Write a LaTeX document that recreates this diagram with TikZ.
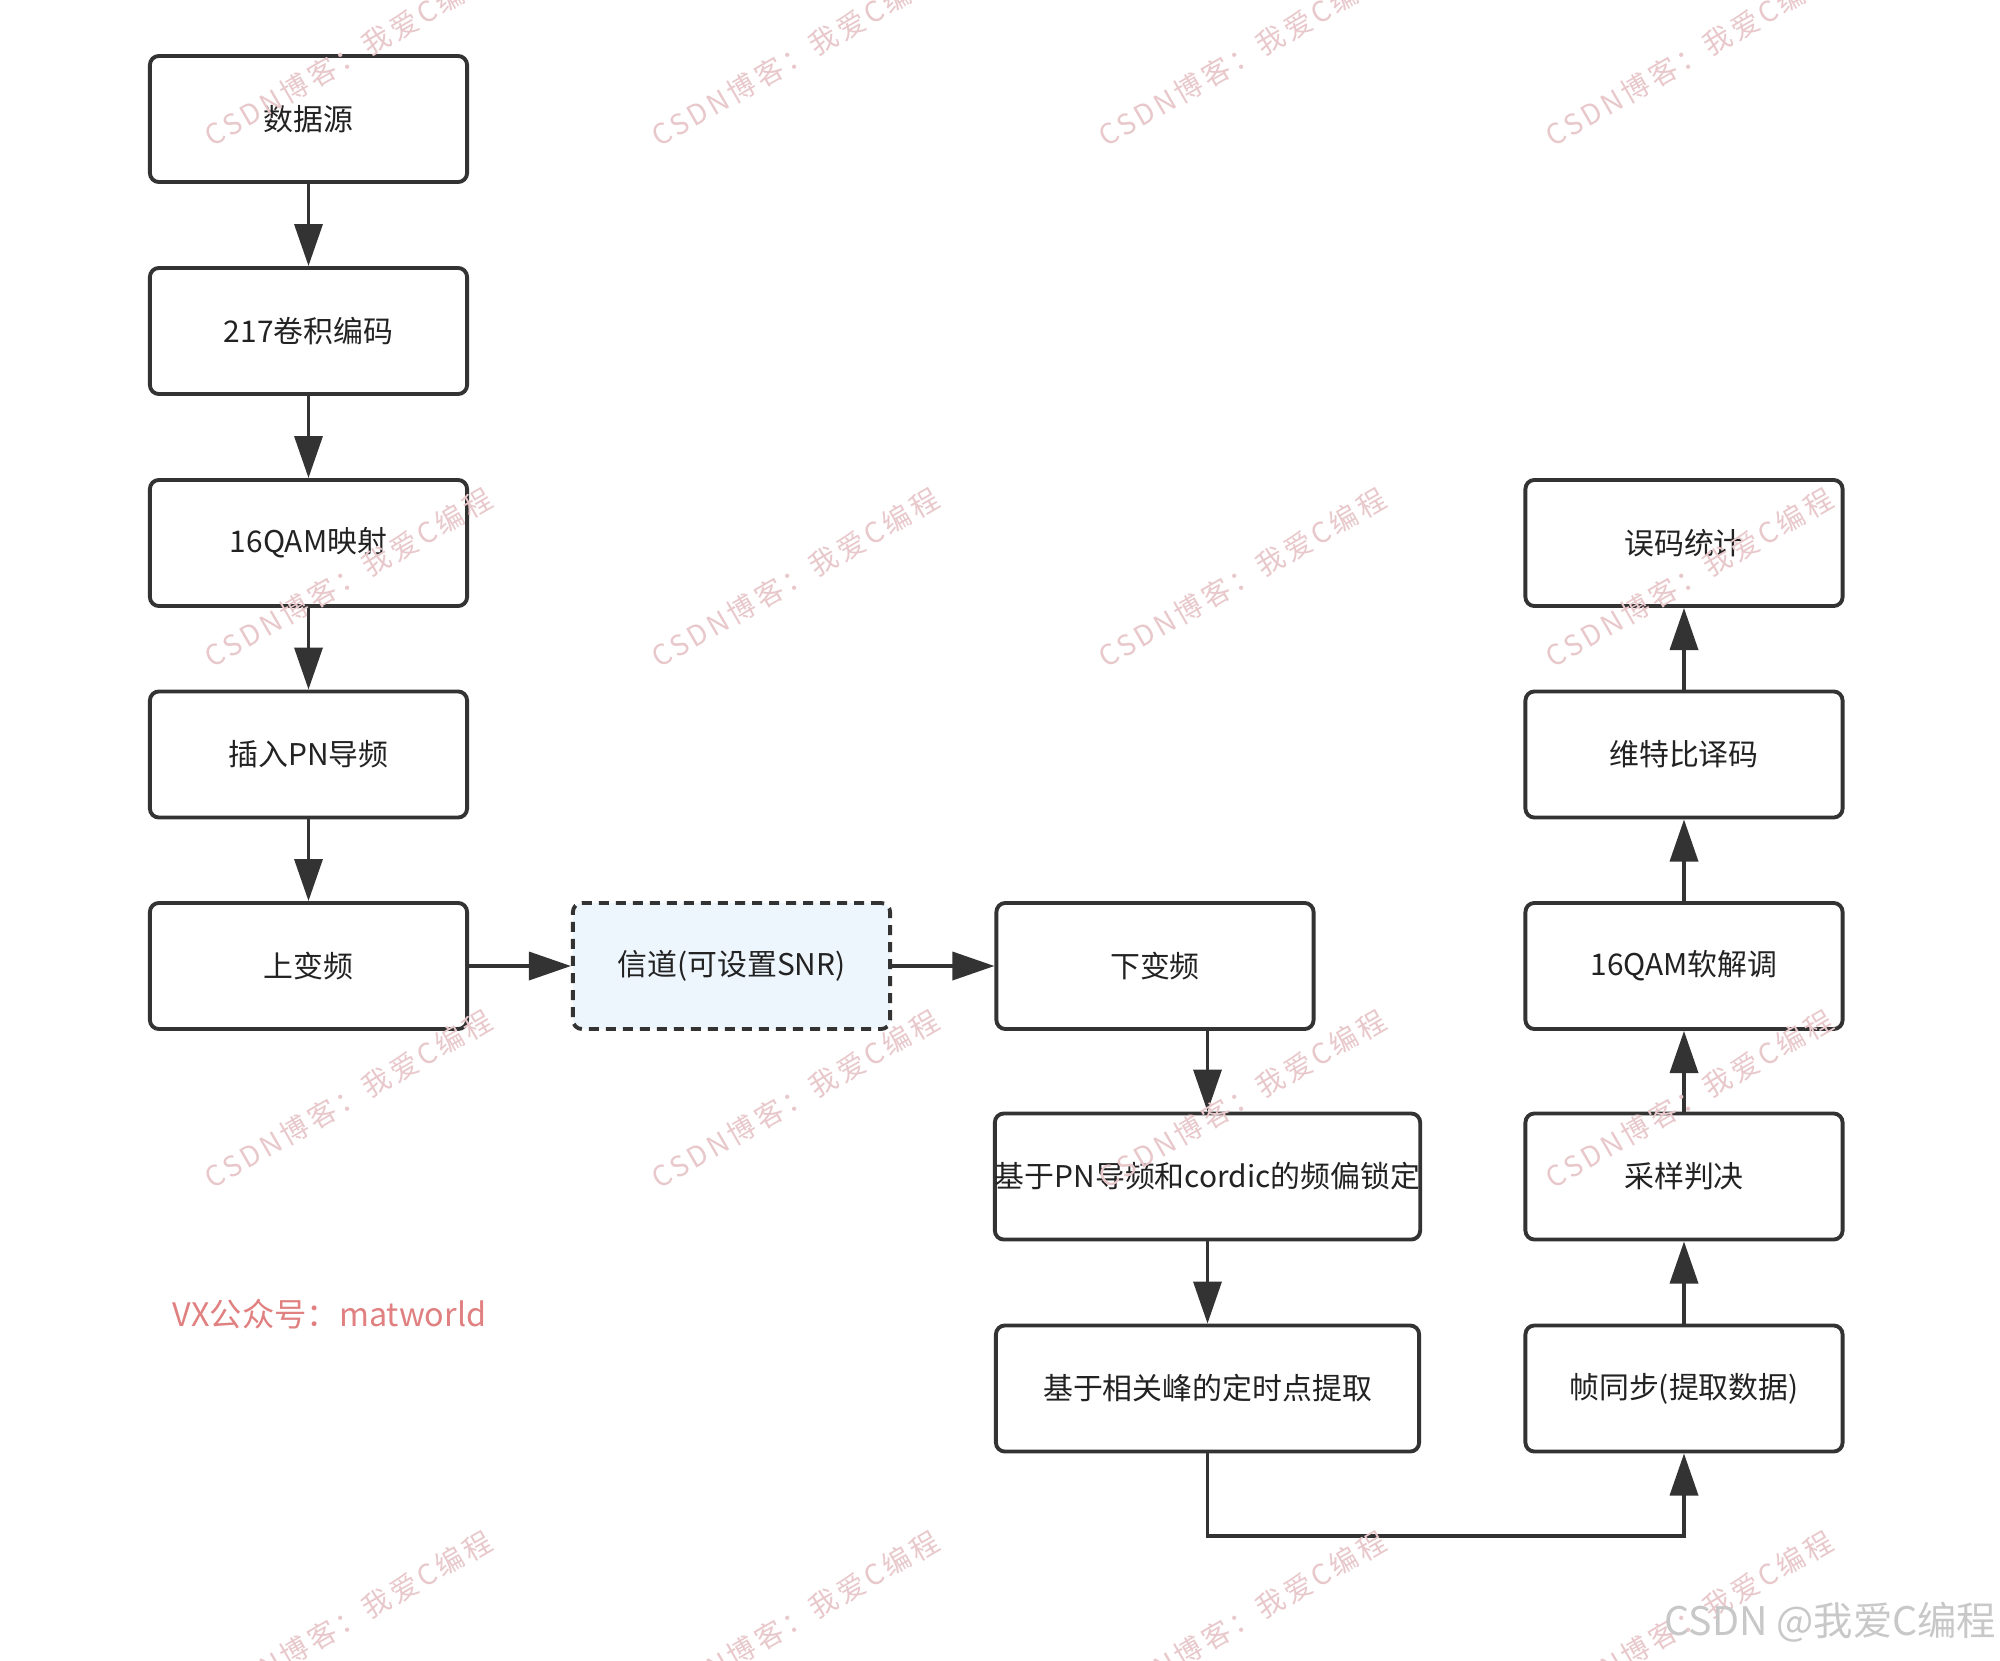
\documentclass[tikz,border=0pt]{standalone}
\usepackage{fontspec}
\setmainfont{Noto Sans CJK SC}
\newfontfamily\wmfont[LetterSpace=12]{Noto Sans CJK SC}
\usetikzlibrary{arrows.meta}
\definecolor{linec}{HTML}{333333}
\definecolor{txtc}{HTML}{222222}
\definecolor{chfill}{HTML}{EEF6FD}
\definecolor{wmc}{RGB}{232,200,203}
\definecolor{vxc}{RGB}{224,128,128}
\definecolor{csdnc}{RGB}{200,200,200}
\begin{document}
\begin{tikzpicture}[x=0.01cm,y=-0.01cm,
  blk/.style={draw=linec, line width=1.1pt, rounded corners=0.09cm, fill=white,
    minimum width=3.17cm, minimum height=1.26cm, inner sep=0pt,
    font=\fontsize{8.5}{10}\selectfont, text=txtc},
  widebox/.style={blk, minimum width=4.23cm},
  chan/.style={blk, dash pattern=on 0.1cm off 0.07cm, fill=chfill},
  arr/.style={draw=linec, line width=1pt, -{Triangle[length=0.42cm,width=0.28cm]}},
  ln/.style={draw=linec, line width=1pt},
  wm/.style={text=wmc, rotate=30, inner sep=0pt, font=\wmfont\fontsize{8}{10}\selectfont}
]
\useasboundingbox (0,0) rectangle (2000,1660);
\clip (0,0) rectangle (2000,1660);
\fill[white] (0,0) rectangle (2000,1660);

% left column
\node[blk] (src) at (308.5,119) {数据源};
\node[blk] (enc) at (308.5,331) {217卷积编码};
\node[blk] (map) at (308.5,543) {16QAM映射};
\node[blk] (pn)  at (308.5,754.5) {插入PN导频};
\node[blk] (up)  at (308.5,966) {上变频};
% middle
\node[chan] (ch) at (731.5,966) {信道(可设置SNR)};
\node[blk] (down) at (1155,966) {下变频};
\node[widebox] (cfo) at (1207.5,1176.5) {基于PN导频和cordic的频偏锁定};
\node[widebox] (tim) at (1207.5,1388.5) {基于相关峰的定时点提取};
% right column
\node[blk] (ber) at (1684,543) {误码统计};
\node[blk] (vit) at (1684,754.5) {维特比译码};
\node[blk] (dem) at (1684,966) {16QAM软解调};
\node[blk] (dec) at (1684,1176.5) {采样判决};
\node[blk] (frm) at (1684,1388.5) {帧同步(提取数据)};

% connectors
\draw[arr] (src.south) -- (enc.north);
\draw[arr] (enc.south) -- (map.north);
\draw[arr] (map.south) -- (pn.north);
\draw[arr] (pn.south) -- (up.north);
\draw[arr] (up.east) -- (ch.west);
\draw[arr] (ch.east) -- (down.west);
\draw[arr] (down.south -| cfo.north) -- (cfo.north);
\draw[arr] (cfo.south) -- (tim.north);
\coordinate (lowbend) at (1207.5,1536);
\draw[arr] (tim.south) -- (lowbend) -| (frm.south);
\draw[arr] (frm.north) -- (dec.south);
\draw[arr] (dec.north) -- (dem.south);
\draw[arr] (dem.north) -- (vit.south);
\draw[arr] (vit.north) -- (ber.south);

% texts
\node[text=vxc, anchor=west, inner sep=0pt, font=\fontsize{9.2}{11}\selectfont] (vx) at (172,1314) {VX公众号：matworld};

% watermarks
\foreach \i in {0,1,2,3}{
  \foreach \j in {0,1,2,3}{
    \node[wm] (wm-\i-\j) at ({348+447*\i},{57+521*\j}) {CSDN博客：我爱C编程};
  }
}
\node[text=csdnc, anchor=east, inner sep=0pt, font=\fontsize{11.2}{13}\selectfont] (csdn) at (1997,1622) {CSDN @我爱C编程};
\end{tikzpicture}
\end{document}
